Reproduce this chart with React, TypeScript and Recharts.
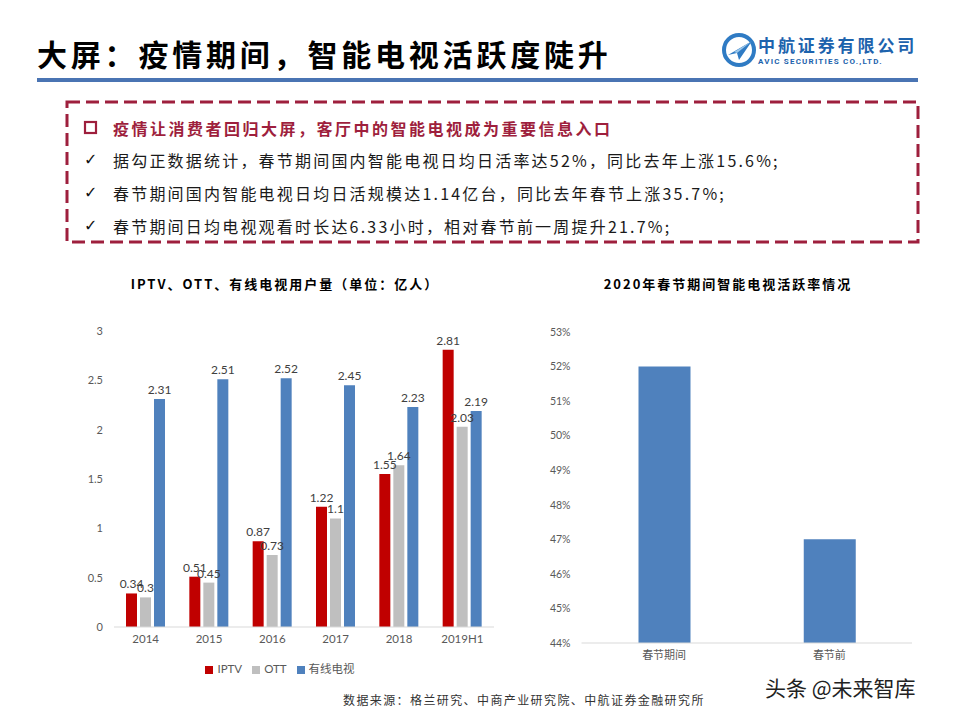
import React from 'react';
import { BarChart, Bar, XAxis, YAxis, Legend, LabelList } from 'recharts';

// 用户量（亿人）
const years = ['2014', '2015', '2016', '2017', '2018', '2019H1'];
const iptvUsers = [0.34, 0.51, 0.87, 1.22, 1.55, 2.81];
const ottUsers = [0.3, 0.45, 0.73, 1.1, 1.64, 2.03];
const cableUsers = [2.31, 2.51, 2.52, 2.45, 2.23, 2.19];
const userTicks = [0, 0.5, 1, 1.5, 2, 2.5, 3];

// 智能电视活跃率（%）
const periods = ['春节期间', '春节前'];
const activeRates = [52, 47];
const rateTicks = [44, 45, 46, 47, 48, 49, 50, 51, 52, 53];

const headline = '疫情让消费者回归大屏，客厅中的智能电视成为重要信息入口';
const bullets = [
  '据勾正数据统计，春节期间国内智能电视日均日活率达52%，同比去年上涨15.6%;',
  '春节期间国内智能电视日均日活规模达1.14亿台，同比去年春节上涨35.7%;',
  '春节期间日均电视观看时长达6.33小时，相对春节前一周提升21.7%;',
];

const userData = years.map((year, i) => ({
  year,
  IPTV: iptvUsers[i],
  OTT: ottUsers[i],
  有线电视: cableUsers[i],
}));

const rateData = periods.map((period, i) => ({ period, rate: activeRates[i] }));

const CJK = '"Noto Sans CJK SC", "Noto Sans", sans-serif';
const NUM = 'Lato, "Noto Sans CJK SC", sans-serif';
const RED = '#c00000';
const GREY = '#bfbfbf';
const BLUE = '#4f81bd';
const MAROON = '#9e1f3d';

function Logo() {
  return (
    <div style={{ position: 'absolute', left: 722, top: 33 }}>
      <svg width={34} height={34} style={{ position: 'absolute', left: 0, top: 0 }}>
        <circle cx={17} cy={17} r={15} fill="none" stroke="#2f7bc4" strokeWidth={4} />
        <path d="M6 22 L30 8 L17 27 L15 20 Z" fill="#2f7bc4" />
        <path d="M15 20 L30 8 L12 19 Z" fill="#9cc7ea" />
      </svg>
      <div style={{ position: 'absolute', left: 36, top: 2, width: 170, fontFamily: CJK, fontWeight: 700, fontSize: 17, letterSpacing: 2.9, color: '#1d63ad', whiteSpace: 'nowrap', lineHeight: '20px' }}>
        中航证券有限公司
      </div>
      <div style={{ position: 'absolute', left: 36, top: 24, fontFamily: 'Roboto, sans-serif', fontWeight: 700, fontSize: 8, letterSpacing: 1.2, color: '#1d63ad', whiteSpace: 'nowrap', lineHeight: '10px' }}>
        AVIC SECURITIES CO.,LTD.
      </div>
    </div>
  );
}

function InfoBox() {
  return (
    <>
      <svg width={960} height={260} style={{ position: 'absolute', left: 0, top: 0 }}>
        <rect x={67} y={102} width={851} height={140} fill="none" stroke={MAROON} strokeWidth={3} strokeDasharray="13 6" />
        <rect x={85} y={122} width={11} height={11} fill="none" stroke={MAROON} strokeWidth={2.2} />
      </svg>
      <div style={{ position: 'absolute', left: 113, top: 117, fontFamily: CJK, fontWeight: 700, fontSize: 16, letterSpacing: 2.5, color: MAROON, whiteSpace: 'nowrap', lineHeight: '22px' }}>
        {headline}
      </div>
      {bullets.map((line, i) => (
        <React.Fragment key={line}>
          <div style={{ position: 'absolute', left: 84, top: 149 + i * 33, fontFamily: '"DejaVu Sans", sans-serif', fontSize: 16, color: '#111', lineHeight: '22px' }}>
            ✓
          </div>
          <div style={{ position: 'absolute', left: 113, top: 149 + i * 33, fontFamily: CJK, fontSize: 16, letterSpacing: 2.2, color: '#1a1a1a', whiteSpace: 'nowrap', lineHeight: '22px' }}>
            {line}
          </div>
        </React.Fragment>
      ))}
    </>
  );
}

function UsersChart() {
  const tickStyle = { fontSize: 11, fill: '#595959', fontFamily: NUM };
  const labelStyle = { fontSize: 12, fill: '#404040', fontFamily: NUM };
  return (
    <div style={{ position: 'absolute', left: 60, top: 310 }}>
      <BarChart width={450} height={380} data={userData} margin={{ top: 21, right: 16, left: 14, bottom: 37 }} barSize={11} barGap={3}>
        <XAxis dataKey="year" height={26} tickLine={false} axisLine={{ stroke: '#d9d9d9' }} tick={{ ...tickStyle, fontSize: 11.5 }} />
        <YAxis width={40} domain={[0, 3]} ticks={userTicks} axisLine={false} tickLine={false} tickMargin={5} tick={tickStyle} />
        <Legend
          layout="horizontal"
          align="center"
          verticalAlign="middle"
          iconType="square"
          iconSize={8}
          wrapperStyle={{ top: 350, left: 0, width: 450, fontFamily: NUM, fontSize: 11.5 }}
          formatter={(value) => <span style={{ color: '#595959' }}>{value}</span>}
        />
        <Bar dataKey="IPTV" fill={RED} isAnimationActive={false}>
          <LabelList dataKey="IPTV" position="top" style={labelStyle} />
        </Bar>
        <Bar dataKey="OTT" fill={GREY} isAnimationActive={false}>
          <LabelList dataKey="OTT" position="top" style={labelStyle} />
        </Bar>
        <Bar dataKey="有线电视" fill={BLUE} isAnimationActive={false}>
          <LabelList dataKey="有线电视" position="top" style={labelStyle} />
        </Bar>
      </BarChart>
    </div>
  );
}

function RateChart() {
  const tickStyle = { fontSize: 10.5, fill: '#595959', fontFamily: NUM };
  return (
    <div style={{ position: 'absolute', left: 510, top: 315 }}>
      <BarChart width={420} height={358} data={rateData} margin={{ top: 17, right: 18, left: 21.5, bottom: 0 }} barSize={52}>
        <XAxis dataKey="period" height={30} tickLine={false} axisLine={{ stroke: '#d9d9d9' }} tick={{ ...tickStyle, fontFamily: CJK, fontSize: 11 }} />
        <YAxis
          width={50}
          domain={[44, 53]}
          ticks={rateTicks}
          allowDataOverflow
          axisLine={false}
          tickLine={false}
          tickMargin={5}
          tick={tickStyle}
          tickFormatter={(v) => `${v}%`}
        />
        <Bar dataKey="rate" fill={BLUE} isAnimationActive={false} />
      </BarChart>
    </div>
  );
}

export default function App() {
  return (
    <div style={{ position: 'absolute', left: 0, top: 0, width: 960, height: 720, background: '#fff', overflow: 'hidden' }}>
      <div style={{ position: 'absolute', left: 37, top: 35, fontFamily: CJK, fontWeight: 700, fontSize: 30, letterSpacing: 3.8, color: '#000', whiteSpace: 'nowrap', lineHeight: '36px' }}>
        大屏：疫情期间，智能电视活跃度陡升
      </div>
      <Logo />
      <div style={{ position: 'absolute', left: 37, top: 78, width: 881, height: 4, background: '#4a74b3' }} />
      <InfoBox />

      <div style={{ position: 'absolute', left: 60, top: 274, width: 450, textAlign: 'center', fontFamily: CJK, fontWeight: 700, fontSize: 13, letterSpacing: 2, color: '#000', lineHeight: '20px' }}>
        IPTV、OTT、有线电视用户量（单位：亿人）
      </div>
      <UsersChart />

      <div style={{ position: 'absolute', left: 510, top: 274, width: 436, textAlign: 'center', fontFamily: CJK, fontWeight: 700, fontSize: 13, letterSpacing: 2, color: '#000', lineHeight: '20px' }}>
        2020年春节期间智能电视活跃率情况
      </div>
      <RateChart />

      <div style={{ position: 'absolute', left: 343, top: 691, fontFamily: CJK, fontSize: 12, letterSpacing: 1.4, color: '#333', whiteSpace: 'nowrap', lineHeight: '18px' }}>
        数据来源：格兰研究、中商产业研究院、中航证券金融研究所
      </div>
      <div style={{ position: 'absolute', left: 765, top: 674, fontFamily: CJK, fontSize: 21, color: '#222', whiteSpace: 'nowrap', lineHeight: '26px' }}>
        头条 @未来智库
      </div>
    </div>
  );
}
